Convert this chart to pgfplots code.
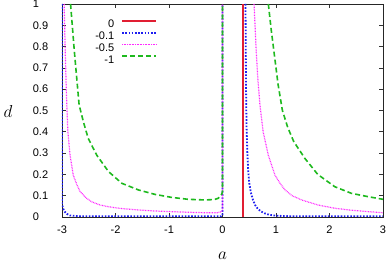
\documentclass[border=0pt]{standalone}
\usepackage{pgfplots}
\pgfplotsset{compat=1.18}
\usepackage{fontspec}
\setmainfont{Liberation Sans}
\definecolor{cred}{RGB}{225,30,50}
\definecolor{cblue}{RGB}{30,30,240}
\definecolor{cpink}{RGB}{255,40,255}
\definecolor{cgreen}{RGB}{30,185,30}
\tikzset{
  sred/.style={cred, line width=1.6pt},
  sblue/.style={cblue, line width=1.8pt, dash pattern=on 1.6pt off 1.6pt},
  spink/.style={cpink, line width=1.2pt, dash pattern=on 0.8pt off 0.8pt},
  sgreen/.style={cgreen, line width=1.6pt, dash pattern=on 5pt off 3pt},
}
\begin{document}
\begin{tikzpicture}
\begin{axis}[
  scale only axis, width=321pt, height=213pt,
  xmin=-3, xmax=3, ymin=0, ymax=1,
  xtick={-3,-2,-1,0,1,2,3},
  ytick={0,0.1,0.2,0.3,0.4,0.5,0.6,0.7,0.8,0.9,1},
  tick align=inside, major tick length=4pt,
  axis line style={black!85},
  tick style={black!80, line width=0.6pt},
  /pgf/number format/assume math mode=true,
  font=\fontsize{11}{13}\selectfont,
  yticklabel style={anchor=west, xshift=-32.7pt},
  xticklabel style={yshift=-5.5pt},
  xlabel={$a$}, ylabel={$d$},
  every axis x label/.style={at={(axis description cs:0.5,0)}, anchor=center, yshift=-38.5pt, font=\fontsize{17}{20}\selectfont},
  every axis y label/.style={at={(axis description cs:0,0.5)}, anchor=center, xshift=-54pt, yshift=-1pt, font=\fontsize{17}{20}\selectfont},
  legend style={draw=none, fill=none, at={(axis description cs:0.296,0.925)}, anchor=north east,
    inner sep=0pt, outer sep=0pt, row sep=4pt, column sep=7pt,
    nodes={inner sep=0pt, text height=7pt, text depth=0pt},
    font=\fontsize{11}{13}\selectfont},
  legend plot pos=right, legend cell align=right,
]
\addplot[sred, legend image code/.code={\draw[sred] (0pt,3.5pt) -- (34pt,3.5pt);}] coordinates {(0.38,0) (0.38,1)};
\addlegendentry{0}
\addplot[sblue, legend image code/.code={\draw[sblue] (0pt,3.5pt) -- (34pt,3.5pt);}] coordinates {
 (-3,1) (-3,0.06) (-2.98,0.04) (-2.95,0.025) (-2.91,0.015) (-2.85,0.007) (-2.7,0.004)
 (-2,0.003) (-1,0.003) (-0.02,0.003) (0,0.01) (0,1)};
\addlegendentry{-0.1}
\addplot[sblue, forget plot] coordinates {
 (0.43,1) (0.435,0.8) (0.44,0.6) (0.45,0.42) (0.465,0.3) (0.48,0.22) (0.5,0.16) (0.53,0.115)
 (0.57,0.08) (0.61,0.056) (0.66,0.038) (0.72,0.026) (0.79,0.017) (0.88,0.01) (1.0,0.006)
 (1.2,0.004) (2,0.003) (3,0.003)};
\addplot[spink, legend image code/.code={\draw[spink] (0pt,3.5pt) -- (34pt,3.5pt);}] coordinates {
 (-2.96,1) (-2.94,0.78) (-2.92,0.6) (-2.91,0.526) (-2.89,0.40) (-2.85,0.29) (-2.79,0.197)
 (-2.72,0.15) (-2.66,0.119) (-2.55,0.09) (-2.45,0.072) (-2.3,0.057) (-2.13,0.048) (-1.9,0.04)
 (-1.57,0.033) (-1.25,0.028) (-0.95,0.025) (-0.6,0.022) (-0.33,0.02) (-0.1,0.02) (-0.02,0.025)
 (0,0.03) (0,1)};
\addlegendentry{-0.5}
\addplot[spink, forget plot] coordinates {
 (0.59,1) (0.63,0.78) (0.66,0.65) (0.70,0.526) (0.76,0.40) (0.856,0.29) (0.98,0.197)
 (1.07,0.16) (1.17,0.127) (1.3,0.1) (1.48,0.08) (1.79,0.056) (2.1,0.041) (2.4,0.032)
 (2.73,0.025) (3.0,0.02)};
\addplot[sgreen, legend image code/.code={\draw[sgreen] (0pt,3.5pt) -- (34pt,3.5pt);}] coordinates {
 (-2.84,1) (-2.77,0.78) (-2.68,0.526) (-2.60,0.447) (-2.51,0.369) (-2.35,0.29) (-2.13,0.213)
 (-1.88,0.158) (-1.57,0.127) (-1.26,0.106) (-0.95,0.092) (-0.64,0.083) (-0.33,0.080)
 (-0.15,0.082) (-0.08,0.088) (-0.03,0.1) (-0.01,0.11) (0,0.12) (0,1)};
\addlegendentry{-1}
\addplot[sgreen, forget plot] coordinates {
 (0.857,1) (0.91,0.88) (0.97,0.76) (1.04,0.62) (1.12,0.5) (1.22,0.42) (1.33,0.355) (1.54,0.275)
 (1.78,0.2) (2.1,0.142) (2.41,0.111) (2.73,0.095) (3.0,0.083)};
\end{axis}
\pgfresetboundingbox
\path (-62pt,-58pt) rectangle (326pt,217pt);
\end{tikzpicture}
\end{document}
